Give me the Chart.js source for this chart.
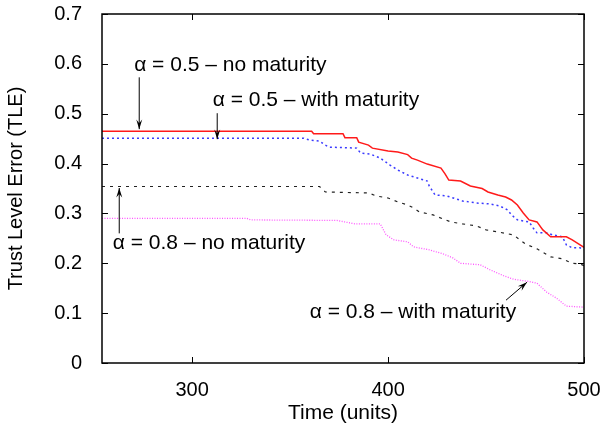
<!DOCTYPE html>
<html>
<head>
<meta charset="utf-8">
<script src="https://cdn.jsdelivr.net/npm/chart.js@4.4.1/dist/chart.umd.min.js"></script>
<style>
  html, body { margin: 0; padding: 0; background: #fff; }
  #caja { width: 605px; height: 430px; }
</style>
</head>
<body>
<div id="caja"><canvas id="graficoTLE"></canvas></div>
<script>
// eje x
const xMin = 254;
const xMax = 500;
const xTicks = [300, 400, 500];
const yTicks = [0, 0.1, 0.2, 0.3, 0.4, 0.5, 0.6, 0.7];

// alpha = 0.5, sin madurez (rojo)
const a5NoT = [254, 361, 362, 377, 378, 384, 385, 390, 392, 400, 405, 410, 412, 415, 420, 427, 429, 431, 437, 442, 448, 451, 456, 460, 463, 466, 469, 472, 476, 479, 483, 491, 494, 498, 500];
const a5NoV = [0.465, 0.465, 0.46, 0.46, 0.452, 0.452, 0.443, 0.437, 0.431, 0.425, 0.423, 0.418, 0.411, 0.407, 0.399, 0.391, 0.38, 0.367, 0.365, 0.355, 0.35, 0.343, 0.337, 0.333, 0.327, 0.317, 0.301, 0.287, 0.283, 0.267, 0.253, 0.253, 0.247, 0.237, 0.232];

// alpha = 0.5, con madurez (azul)
const a5ConT = [254, 357, 360, 365, 368, 370, 384, 386, 391, 396, 401, 405, 410, 415, 420, 421, 424, 430, 438, 445, 452, 457, 461, 463, 466, 472, 474, 476, 481, 484, 489, 491, 494, 498, 500];
const a5ConV = [0.451, 0.451, 0.447, 0.445, 0.437, 0.433, 0.431, 0.421, 0.419, 0.411, 0.397, 0.387, 0.377, 0.371, 0.365, 0.355, 0.337, 0.335, 0.325, 0.321, 0.319, 0.315, 0.307, 0.297, 0.287, 0.283, 0.271, 0.261, 0.261, 0.257, 0.253, 0.237, 0.231, 0.231, 0.227];

// alpha = 0.8, sin madurez (negro)
const a8NoT = [254, 365, 368, 390, 394, 400, 405, 410, 413, 416, 423, 428, 432, 438, 445, 450, 456, 464, 468, 470, 476, 483, 489, 494, 498, 500];
const a8NoV = [0.354, 0.354, 0.343, 0.341, 0.335, 0.331, 0.323, 0.317, 0.311, 0.303, 0.297, 0.289, 0.283, 0.279, 0.275, 0.267, 0.263, 0.257, 0.245, 0.239, 0.229, 0.213, 0.209, 0.2, 0.199, 0.195];

// alpha = 0.8, con madurez (magenta)
const a8ConT = [254, 328, 330, 374, 383, 396, 399, 403, 410, 413, 421, 428, 433, 437, 447, 452, 459, 464, 471, 476, 481, 486, 491, 500];
const a8ConV = [0.29, 0.29, 0.287, 0.286, 0.279, 0.279, 0.257, 0.247, 0.243, 0.233, 0.227, 0.219, 0.211, 0.2, 0.197, 0.187, 0.175, 0.168, 0.164, 0.16, 0.142, 0.13, 0.114, 0.112];

// etiquetas con flecha: texto, punto del texto y flecha (en valores de datos)
const notas = [
  { texto: 'α = 0.5 – no maturity',   tx: 270.4, ty: 0.598, desde: [273, 0.573], hasta: [273, 0.469] },
  { texto: 'α = 0.5 – with maturity', tx: 310.5, ty: 0.527, desde: [312.8, 0.501], hasta: [312.8, 0.449] },
  { texto: 'α = 0.8 – no maturity',   tx: 259.5, ty: 0.241, desde: [262.8, 0.26], hasta: [262.8, 0.351] },
  { texto: 'α = 0.8 – with maturity', tx: 360.0, ty: 0.102, desde: [460.2, 0.126], hasta: [470.9, 0.162] }
];

function puntos(ts, vs) {
  return ts.map((t, i) => ({ x: t, y: vs[i] }));
}

const fuente = '"Liberation Sans", Arial, Helvetica, sans-serif';

const marcoYNotas = {
  id: 'marcoYNotas',
  afterDraw(chart) {
    const ctx = chart.ctx;
    const a = chart.chartArea;
    const sx = chart.scales.x;
    const sy = chart.scales.y;
    ctx.save();
    ctx.strokeStyle = '#000';
    ctx.lineWidth = 1.5;
    ctx.strokeRect(a.left, a.top, a.right - a.left, a.bottom - a.top);
    ctx.lineWidth = 1;
    ctx.beginPath();
    yTicks.forEach(v => {
      const p = Math.round(sy.getPixelForValue(v)) + 0.5;
      ctx.moveTo(a.left, p); ctx.lineTo(a.left + 6, p);
      ctx.moveTo(a.right, p); ctx.lineTo(a.right - 6, p);
    });
    xTicks.forEach(v => {
      const p = Math.round(sx.getPixelForValue(v)) + 0.5;
      ctx.moveTo(p, a.bottom); ctx.lineTo(p, a.bottom - 6);
      ctx.moveTo(p, a.top); ctx.lineTo(p, a.top + 6);
    });
    ctx.stroke();

    ctx.font = '21px ' + fuente;
    ctx.fillStyle = '#000';
    ctx.textBaseline = 'middle';
    ctx.textAlign = 'left';
    notas.forEach(n => {
      ctx.fillText(n.texto, sx.getPixelForValue(n.tx), sy.getPixelForValue(n.ty));
      const x1 = sx.getPixelForValue(n.desde[0]), y1 = sy.getPixelForValue(n.desde[1]);
      const x2 = sx.getPixelForValue(n.hasta[0]), y2 = sy.getPixelForValue(n.hasta[1]);
      ctx.beginPath();
      ctx.moveTo(x1, y1); ctx.lineTo(x2, y2);
      ctx.stroke();
      const ang = Math.atan2(y2 - y1, x2 - x1);
      const L = 10, w = 0.3;
      ctx.beginPath();
      ctx.moveTo(x2, y2);
      ctx.lineTo(x2 - L * Math.cos(ang - w), y2 - L * Math.sin(ang - w));
      ctx.lineTo(x2 - 0.6 * L * Math.cos(ang), y2 - 0.6 * L * Math.sin(ang));
      ctx.lineTo(x2 - L * Math.cos(ang + w), y2 - L * Math.sin(ang + w));
      ctx.closePath();
      ctx.fill();
    });
    ctx.restore();
  }
};

const ctxTLE = document.getElementById('graficoTLE').getContext('2d');
const graficoTLE = new Chart(ctxTLE, {
  type: 'line',
  data: {
    datasets: [
      {
        label: 'alpha = 0.5 - no maturity',
        data: puntos(a5NoT, a5NoV),
        borderColor: '#ff1a1a',
        borderWidth: 1.5
      },
      {
        label: 'alpha = 0.5 - with maturity',
        data: puntos(a5ConT, a5ConV),
        borderColor: '#3a3aff',
        borderWidth: 1.5,
        borderDash: [2, 3]
      },
      {
        label: 'alpha = 0.8 - no maturity',
        data: puntos(a8NoT, a8NoV),
        borderColor: '#222222',
        borderWidth: 1.2,
        borderDash: [3, 5]
      },
      {
        label: 'alpha = 0.8 - with maturity',
        data: puntos(a8ConT, a8ConV),
        borderColor: '#ff55ff',
        borderWidth: 1.3,
        borderDash: [1, 1.5]
      }
    ]
  },
  options: {
    responsive: true,
    maintainAspectRatio: false,
    animation: false,
    elements: { point: { radius: 0 }, line: { tension: 0, fill: false } },
    layout: { padding: { top: 14, right: 21, left: 0, bottom: 0 } },
    plugins: { legend: { display: false }, tooltip: { enabled: false } },
    scales: {
      x: {
        type: 'linear',
        min: xMin,
        max: xMax,
        grid: { display: false },
        border: { display: false },
        afterBuildTicks: s => { s.ticks = xTicks.map(v => ({ value: v })); },
        afterFit: s => { s.height = 67; s.paddingLeft = 0; s.paddingRight = 0; },
        ticks: {
          color: '#000',
          font: { family: fuente, size: 20 },
          padding: 7,
          maxRotation: 0
        },
        title: {
          display: true,
          text: 'Time (units)',
          color: '#000',
          font: { family: fuente, size: 21 },
          padding: { top: 0, bottom: 4 }
        }
      },
      y: {
        min: 0,
        max: 0.7,
        grid: { display: false },
        border: { display: false },
        afterBuildTicks: s => { s.ticks = yTicks.map(v => ({ value: v })); },
        afterFit: s => { s.width = 102; s.paddingTop = 0; s.paddingBottom = 0; },
        ticks: {
          color: '#000',
          font: { family: fuente, size: 20 },
          padding: 12,
          callback: v => (v === 0 ? '0' : v.toFixed(1))
        },
        title: {
          display: true,
          text: 'Trust Level Error (TLE)',
          color: '#000',
          font: { family: fuente, size: 20 },
          padding: { top: 4, bottom: 0 }
        }
      }
    }
  },
  plugins: [marcoYNotas]
});
</script>
</body>
</html>
